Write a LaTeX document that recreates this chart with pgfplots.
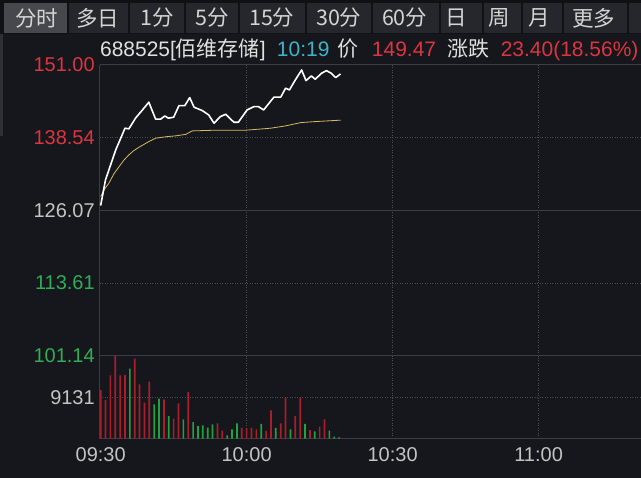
\documentclass[border=0pt]{standalone}
\usepackage{pgfplots}
\pgfplotsset{compat=1.18}
\usepackage{fontspec}
\setmainfont{Liberation Sans}
\newfontfamily\cjk{Noto Sans CJK SC}
\definecolor{bg}{HTML}{15171C}
\definecolor{tabbar}{HTML}{0F1114}
\definecolor{tabbg}{HTML}{25272D}
\definecolor{tabsel}{HTML}{46484E}
\definecolor{tabtxt}{HTML}{D4D4D4}
\definecolor{upred}{HTML}{DC3540}
\definecolor{dngreen}{HTML}{2FAE55}
\definecolor{lbl}{HTML}{C4C4C4}
\definecolor{hdr}{HTML}{E0E0E0}
\definecolor{gridc}{HTML}{3A3D44}
\definecolor{dotc}{HTML}{4A4D55}
\definecolor{cyanc}{HTML}{3FB3C6}
\definecolor{volred}{HTML}{A81E2C}
\definecolor{volgreen}{HTML}{23A03F}
\definecolor{avgc}{HTML}{D8B860}
\begin{document}
\begin{tikzpicture}
\begin{scope}[x=1pt,y=-1pt]
\fill[bg] (0,0) rectangle (641,478);
\path[use as bounding box] (0,0) rectangle (641,478);
\fill[tabbar] (0,0) rectangle (641,34);
\foreach \a/\b in {69/128,130/184,186/238,240/305,307/371,373/439,441/482,484/521,523/562,564/627,629/641}
  \fill[tabbg] (\a,3) rectangle (\b,33);
\fill[tabsel] (4,3) rectangle (67,33);
\fill[black!45!lbl!30!bg] (0,34) rectangle (3,136);
\foreach \x/\t in {37/分时,98/多日,157/1分,212/5分,272/15分,339/30分,405/60分,457/日,500/周,540/月,594/更多}
  \node[font=\cjk\fontsize{21.5pt}{21.5pt}\selectfont, text=tabtxt, inner sep=0pt] at (\x,18) {\t};
\end{scope}

\begin{axis}[at={(100pt,-356pt)}, anchor=south west, scale only axis,
  width=541pt, height=291pt,
  xmin=-0.15, xmax=110.94, ymin=101.14, ymax=151.00,
  axis line style={draw=none}, tick style={draw=none}, major tick length=0pt,
  xtick=\empty,
  ytick={101.14,113.61,126.07,138.54,151.00},
  yticklabels={{\color{dngreen}101.14},{\color{dngreen}113.61},{\color{lbl}126.07},{\color{upred}138.54},{\color{upred}151.00}},
  yticklabel style={font=\fontsize{20pt}{20pt}\selectfont, inner sep=0pt, xshift=-5pt},
  clip=false]
\draw[dotc, line width=0.8pt, dash pattern=on 1pt off 1.5pt] (axis cs:-0.15,138.54) -- (axis cs:110.94,138.54);
\draw[dotc, line width=0.8pt, dash pattern=on 1pt off 1.5pt] (axis cs:-0.15,113.61) -- (axis cs:110.94,113.61);
\draw[dotc, line width=0.8pt, dash pattern=on 1pt off 1.5pt] (axis cs:30,101.14) -- (axis cs:30,151);
\draw[dotc, line width=0.8pt, dash pattern=on 1pt off 1.5pt] (axis cs:60,101.14) -- (axis cs:60,151);
\draw[dotc, line width=0.8pt, dash pattern=on 1pt off 1.5pt] (axis cs:90,101.14) -- (axis cs:90,151);
\draw[gridc, line width=1pt] (axis cs:-0.15,126.07) -- (axis cs:110.94,126.07);
\draw[gridc, line width=1pt] (rel axis cs:0,1) -- (rel axis cs:1,1);
\draw[gridc, line width=1pt] (rel axis cs:0,0) -- (rel axis cs:1,0);
\draw[gridc, line width=1pt] (rel axis cs:0,0) -- (rel axis cs:0,1);
\addplot[avgc, line width=0.8pt] coordinates {
(0,128.43) (0.8,129.7) (1.7,130.73) (2.7,132.3) (3.8,133.58) (4.8,134.7) (5.8,135.58) (6.8,136.3) (7.9,136.90) (9.9,137.86) (11.3,138.44) (13.5,138.7) (15.4,138.84) (17.5,139.1) (18.8,139.69) (23.6,139.81) (29.8,139.81) (34.9,140.15) (38.0,140.55) (41.1,141.11) (44.1,141.29) (49.3,141.53)};
\addplot[white, line width=1.6pt, line join=round] coordinates {
(0,126.89) (1.0,131.30) (3.1,136.44) (5.0,140.15) (5.8,140.04) (7.2,141.92) (8.6,143.29) (9.9,144.61) (11.3,141.70) (12.3,141.70) (13.2,142.26) (13.9,141.87) (15.0,142.04) (16.1,144.03) (17.3,144.03) (18.3,145.40) (19.2,143.75) (20.9,143.17) (22.2,142.43) (23.3,141.01) (24.6,142.14) (25.7,142.55) (26.7,141.70) (27.4,141.18) (28.3,141.18) (30.1,143.29) (31.5,143.86) (32.4,143.86) (33.5,143.29) (34.6,144.44) (35.6,145.47) (37.0,145.47) (38.0,147.01) (38.8,146.72) (40.0,148.43) (41.3,150.14) (42.2,148.31) (43.3,149.12) (44.1,148.55) (45.4,149.58) (46.4,150.02) (47.4,149.58) (48.3,148.83) (49.3,149.46)};
\end{axis}

\begin{axis}[at={(100pt,-439pt)}, anchor=south west, scale only axis,
  width=541pt, height=83pt,
  xmin=-0.15, xmax=110.94, ymin=0, ymax=18484,
  scaled y ticks=false,
  axis line style={draw=none}, tick style={draw=none}, major tick length=0pt,
  ytick={9131}, yticklabels={{\color{lbl}9131}},
  yticklabel style={font=\fontsize{20pt}{20pt}\selectfont, inner sep=0pt, xshift=-5pt},
  xtick={0,30,60,90}, xticklabels={09:30,10:00,10:30,11:00},
  xticklabel style={font=\fontsize{20pt}{20pt}\selectfont, text=lbl, inner sep=0pt, yshift=-8.5pt},
  clip=false]
\draw[dotc, line width=0.8pt, dash pattern=on 1pt off 1.5pt] (axis cs:-0.15,9131) -- (axis cs:110.94,9131);
\draw[dotc, line width=0.8pt, dash pattern=on 1pt off 1.5pt] (axis cs:30,0) -- (axis cs:30,18484);
\draw[dotc, line width=0.8pt, dash pattern=on 1pt off 1.5pt] (axis cs:60,0) -- (axis cs:60,18484);
\draw[dotc, line width=0.8pt, dash pattern=on 1pt off 1.5pt] (axis cs:90,0) -- (axis cs:90,18484);
\draw[gridc, line width=1pt] (rel axis cs:0,0) -- (rel axis cs:1,0);
\draw[gridc, line width=1pt] (rel axis cs:0,1) -- (rel axis cs:1,1);
\draw[gridc, line width=1pt] (rel axis cs:0,0) -- (rel axis cs:0,1);
\addplot[ybar, bar shift=0pt, bar width=1.7pt, fill=volred, draw=none] coordinates {
(0,10840) (1,8610) (2,14100) (3,18400) (4,14100) (5,14170) (7,17820) (8,12100) (9,8020) (10,12690) (13,8760) (15,4450) (16,7870) (18,10390) (24,3410) (25,1780) (29,2380) (30,2380) (31,2380) (32,2080) (34,1710) (35,6300) (37,3410) (38,9130) (40,5050) (41,9130) (43,1930) (45,2670) (46,4300)};
\addplot[ybar, bar shift=0pt, bar width=1.7pt, fill=volgreen, draw=none] coordinates {
(6,15590) (11,7650) (12,8910) (14,5050) (17,4300) (19,3710) (20,2820) (21,2970) (22,2450) (23,3190) (26,740) (27,2080) (28,3410) (33,3270) (36,2380) (39,2080) (42,3270) (44,1630) (47,1780) (48,450) (49,300)};
\end{axis}

\begin{scope}[x=1pt,y=-1pt]
\tikzset{hd/.style={font=\fontsize{21pt}{21pt}\selectfont, inner sep=0pt, anchor=base west}}
\node[hd, text=hdr] at (100,56.5) {688525[{\cjk 佰维存储}]};
\node[hd, text=cyanc] at (277,56.5) {10:19};
\node[hd, text=hdr] at (338,56.5) {\cjk 价};
\node[hd, text=upred] at (372,56.5) {149.47};
\node[hd, text=hdr] at (448,56.5) {\cjk 涨跌};
\node[hd, text=upred] at (501,56.5) {23.40(18.56\%)};
\end{scope}
\end{tikzpicture}
\end{document}
